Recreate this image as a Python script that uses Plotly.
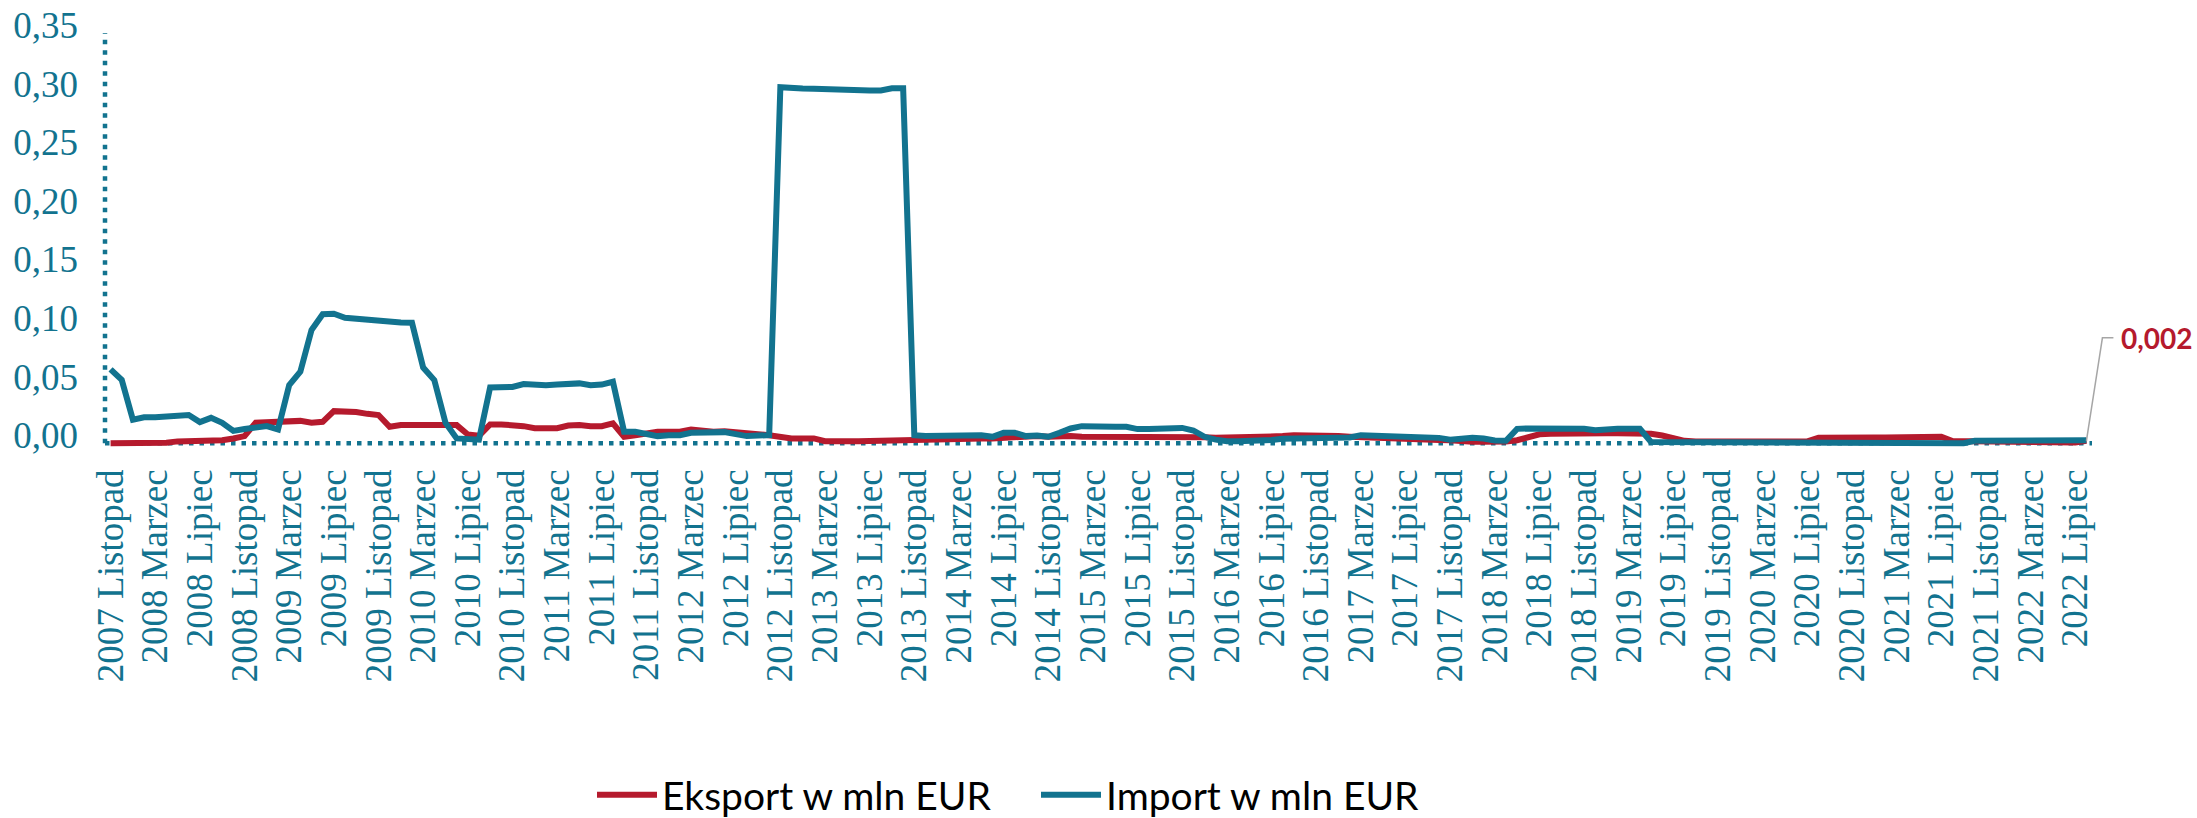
import plotly.graph_objects as go

# Monthly series, Nov 2007 - Aug 2022 (values in mln EUR)
MONTHS_PL = ["Styczeń", "Luty", "Marzec", "Kwiecień", "Maj", "Czerwiec", "Lipiec",
             "Sierpień", "Wrzesień", "Październik", "Listopad", "Grudzień"]
START_YEAR, START_MONTH, N_MONTHS = 2007, 11, 178
periods = [f"{START_YEAR + (START_MONTH - 1 + k) // 12} {MONTHS_PL[(START_MONTH - 1 + k) % 12]}"
           for k in range(N_MONTHS)]
tick_labels = periods[::4]

eksport = [
    0.0000, 0.0000, 0.0003, 0.0000, 0.0000, 0.0003, 0.0015, 0.0015, 0.0015, 0.0015,
    0.0025, 0.0040, 0.0060, 0.0174, 0.0180, 0.0180, 0.0188, 0.0190, 0.0174, 0.0182,
    0.0273, 0.0273, 0.0265, 0.0250, 0.0240, 0.0140, 0.0154, 0.0154, 0.0150, 0.0150,
    0.0154, 0.0154, 0.0074, 0.0063, 0.0160, 0.0160, 0.0154, 0.0145, 0.0128, 0.0128,
    0.0128, 0.0150, 0.0154, 0.0145, 0.0145, 0.0168, 0.0054, 0.0068, 0.0083, 0.0097,
    0.0097, 0.0097, 0.0117, 0.0102, 0.0097, 0.0102, 0.0097, 0.0083, 0.0077, 0.0068,
    0.0054, 0.0040, 0.0040, 0.0040, 0.0017, 0.0011, 0.0017, 0.0017, 0.0020, 0.0020,
    0.0017, 0.0020, 0.0026, 0.0030, 0.0030, 0.0037, 0.0040, 0.0040, 0.0040, 0.0040,
    0.0045, 0.0054, 0.0054, 0.0060, 0.0054, 0.0060, 0.0060, 0.0054, 0.0054, 0.0054,
    0.0057, 0.0060, 0.0060, 0.0060, 0.0054, 0.0050, 0.0050, 0.0054, 0.0050, 0.0045,
    0.0048, 0.0048, 0.0048, 0.0048, 0.0048, 0.0060, 0.0068, 0.0068, 0.0065, 0.0060,
    0.0060, 0.0055, 0.0050, 0.0045, 0.0040, 0.0035, 0.0030, 0.0026, 0.0026, 0.0026,
    0.0024, 0.0015, 0.0011, 0.0011, 0.0011, 0.0013, 0.0025, 0.0055, 0.0075, 0.0080,
    0.0083, 0.0083, 0.0083, 0.0083, 0.0085, 0.0085, 0.0085, 0.0085, 0.0080, 0.0065,
    0.0040, 0.0020, 0.0015, 0.0015, 0.0015, 0.0015, 0.0015, 0.0015, 0.0015, 0.0015,
    0.0015, 0.0015, 0.0015, 0.0045, 0.0048, 0.0048, 0.0048, 0.0048, 0.0048, 0.0048,
    0.0048, 0.0048, 0.0048, 0.0048, 0.0055, 0.0018, 0.0018, 0.0006, 0.0006, 0.0006,
    0.0006, 0.0006, 0.0006, 0.0006, 0.0006, 0.0006, 0.0006, 0.0020,
]

import_ = [
    0.0630, 0.0540, 0.0200, 0.0220, 0.0220, 0.0230, 0.0240, 0.0240, 0.0180, 0.0216,
    0.0174, 0.0105, 0.0120, 0.0134, 0.0145, 0.0117, 0.0495, 0.0610, 0.0965, 0.1100,
    0.1104, 0.1070, 0.1060, 0.1056, 0.1045, 0.1033, 0.1030, 0.1028, 0.0646, 0.0538,
    0.0174, 0.0040, 0.0031, 0.0030, 0.0475, 0.0475, 0.0480, 0.0504, 0.0495, 0.0495,
    0.0500, 0.0504, 0.0510, 0.0495, 0.0500, 0.0524, 0.0097, 0.0097, 0.0083, 0.0060,
    0.0068, 0.0068, 0.0088, 0.0088, 0.0083, 0.0094, 0.0077, 0.0060, 0.0065, 0.0068,
    0.3037, 0.3026, 0.3026, 0.3024, 0.3020, 0.3010, 0.3010, 0.3010, 0.3010, 0.3010,
    0.3028, 0.3028, 0.0068, 0.0060, 0.0060, 0.0065, 0.0068, 0.0068, 0.0068, 0.0054,
    0.0088, 0.0088, 0.0060, 0.0065, 0.0054, 0.0088, 0.0125, 0.0145, 0.0139, 0.0139,
    0.0139, 0.0139, 0.0120, 0.0120, 0.0120, 0.0120, 0.0130, 0.0108, 0.0054, 0.0030,
    0.0017, 0.0017, 0.0017, 0.0026, 0.0026, 0.0037, 0.0040, 0.0040, 0.0040, 0.0040,
    0.0045, 0.0048, 0.0068, 0.0065, 0.0060, 0.0058, 0.0054, 0.0050, 0.0045, 0.0045,
    0.0030, 0.0040, 0.0045, 0.0040, 0.0023, 0.0020, 0.0122, 0.0125, 0.0125, 0.0125,
    0.0122, 0.0122, 0.0122, 0.0110, 0.0122, 0.0122, 0.0122, 0.0122, 0.0010, 0.0010,
    0.0010, 0.0010, 0.0010, 0.0010, 0.0010, 0.0010, 0.0000, 0.0000, 0.0000, 0.0000,
    0.0000, 0.0000, 0.0000, 0.0000, 0.0000, 0.0000, 0.0000, 0.0000, 0.0000, 0.0000,
    0.0000, 0.0000, 0.0000, 0.0000, 0.0000, 0.0000, 0.0000, 0.0020, 0.0020, 0.0020,
    0.0020, 0.0020, 0.0020, 0.0020, 0.0020, 0.0020, 0.0020, 0.0025,
]

TEAL = "#12738F"
RED = "#B51A2D"
SERIF = "Liberation Serif, DejaVu Serif, serif"
SANS = "Lato, Open Sans, sans-serif"

fig = go.Figure()
fig.add_trace(go.Scatter(x=periods, y=eksport, mode="lines", name="Eksport w mln EUR",
                         line=dict(color=RED, width=6)))
fig.add_trace(go.Scatter(x=periods, y=import_, mode="lines", name="Import w mln EUR",
                         line=dict(color=TEAL, width=6)))

# dotted axis lines
axis_line = dict(color=TEAL, width=4.5, dash="4.5px,6px")
fig.add_shape(type="line", xref="paper", yref="y", x0=0, x1=0, y0=0, y1=0.35,
              line=axis_line, layer="below")
fig.add_shape(type="line", xref="paper", yref="y", x0=0, x1=1, y0=0, y1=0,
              line=axis_line, layer="below")

# callout for the latest export value (elbow leader + bold label)
last_label = f"{eksport[-1]:.3f}".replace(".", ",")
last_pos = (N_MONTHS - 1 + 0.5) / N_MONTHS
fig.add_shape(type="path", xref="paper", yref="y", xsizemode="pixel", ysizemode="pixel",
              xanchor=last_pos, yanchor=eksport[-1],
              path="M0,0 L16,103 L27,103", line=dict(color="#A6A6A6", width=1.5))
fig.add_annotation(x=periods[-1], y=eksport[-1], text=f"<b>{last_label}</b>", showarrow=False,
                   xanchor="left", yanchor="middle", xshift=33, yshift=103,
                   font=dict(family=SANS, size=28, color=RED))

fig.update_layout(
    width=2197, height=818,
    margin=dict(l=105, r=105, t=33, b=369, autoexpand=False),
    paper_bgcolor="white", plot_bgcolor="white",
    separators=",.",
    legend=dict(orientation="h", xref="container", x=592 / 2197, xanchor="left",
                yref="container", y=1 - 795 / 818, yanchor="middle",
                font=dict(family=SANS, size=39, color="black"),
                itemwidth=60, entrywidth=369, bgcolor="rgba(0,0,0,0)"),
)
fig.update_xaxes(type="category", range=[-0.5, N_MONTHS - 0.5], automargin=False,
                 tickmode="array", tickvals=tick_labels, ticktext=tick_labels,
                 tickangle=-90, tickfont=dict(family=SERIF, size=37, color=TEAL),
                 showgrid=False, zeroline=False, showline=False, ticks="",
                 ticklabelstandoff=12)
fig.update_yaxes(range=[-0.005, 0.35], tickvals=[0, 0.05, 0.10, 0.15, 0.20, 0.25, 0.30, 0.35],
                 automargin=False,
                 tickformat=".2f", tickfont=dict(family=SERIF, size=37, color=TEAL),
                 showgrid=False, zeroline=False, showline=False, ticks="",
                 ticklabelstandoff=26, ticklabelshift=-8)

fig.write_html("out.html")
